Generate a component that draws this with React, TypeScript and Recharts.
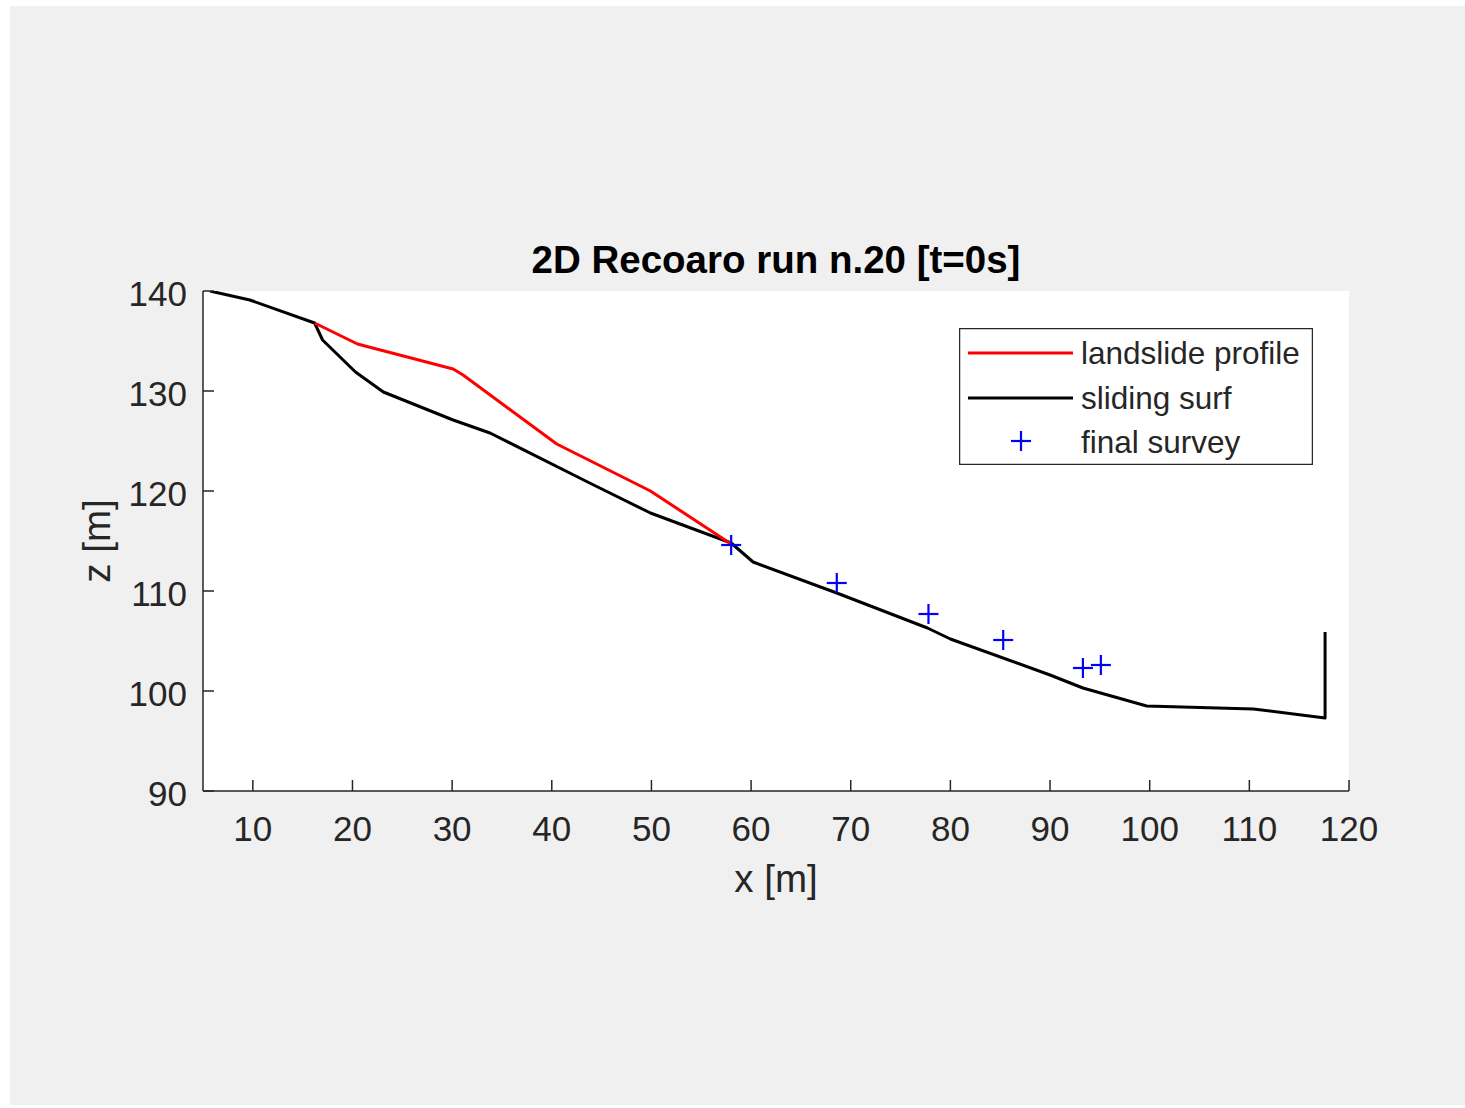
import { ComposedChart, Line, Scatter, XAxis, YAxis, CartesianGrid, Legend, Label } from 'recharts'

// sliding surface (black)
const surfX = [5.7, 9.7, 16.2, 17.0, 20.3, 23.1, 30.1, 33.8, 43.8, 49.9, 58.0, 60.2, 68.6, 77.7, 80.0, 90.0, 93.3, 99.7, 110.4, 117.6, 117.6]
const surfZ = [140, 139.1, 136.8, 135.1, 131.9, 129.9, 127.1, 125.8, 120.8, 117.8, 114.8, 112.9, 109.8, 106.3, 105.2, 101.6, 100.3, 98.5, 98.2, 97.3, 105.9]

// landslide profile (red)
const profX = [16.2, 20.5, 30.1, 31.1, 40.5, 49.9, 58.0]
const profZ = [136.8, 134.7, 132.2, 131.6, 124.7, 120.0, 114.7]

// final survey (blue +)
const surveyX = [58.0, 68.6, 77.8, 85.3, 93.3, 95.1]
const surveyZ = [114.6, 110.8, 107.7, 105.1, 102.3, 102.6]

const xTicks = [10, 20, 30, 40, 50, 60, 70, 80, 90, 100, 110, 120]
const zTicks = [90, 100, 110, 120, 130, 140]

const surf = surfX.map((x, i) => ({ x, z: surfZ[i] }))
const prof = profX.map((x, i) => ({ x, z: profZ[i] }))
const survey = surveyX.map((x, i) => ({ x, z: surveyZ[i] }))

const FONT = '"Liberation Sans", Arial, Helvetica, sans-serif'
const AXIS = '#262626'

const XTick = ({ x, y, payload }: any) => (
  <g>
    <line x1={x} y1={y} x2={x} y2={y - 11} stroke={AXIS} strokeWidth={1.5} />
    <text x={x} y={y + 50} textAnchor="middle" fontSize={35} fontFamily={FONT} fill={AXIS}>
      {payload.value}
    </text>
  </g>
)

const YTick = ({ x, y, payload }: any) => (
  <g>
    <line x1={x} y1={y} x2={x + 11} y2={y} stroke={AXIS} strokeWidth={1.5} />
    <text x={x - 16} y={y + 15} textAnchor="end" fontSize={35} fontFamily={FONT} fill={AXIS}>
      {payload.value}
    </text>
  </g>
)

const Plus = ({ cx, cy }: any) => (
  <g stroke="#0000ff" strokeWidth={2.2}>
    <line x1={cx - 10} y1={cy} x2={cx + 10} y2={cy} />
    <line x1={cx} y1={cy - 10} x2={cx} y2={cy + 10} />
  </g>
)

const LegendBox = () => (
  <svg width={354} height={137} style={{ display: 'block' }}>
    <rect x={0.5} y={0.5} width={353} height={136} fill="#fff" stroke={AXIS} strokeWidth={1.5} />
    <line x1={9} y1={25} x2={114} y2={25} stroke="#ff0000" strokeWidth={3} />
    <line x1={9} y1={70} x2={114} y2={70} stroke="#000" strokeWidth={3} />
    <Plus cx={62} cy={113} />
    <g fontSize={31.5} fontFamily={FONT} fill={AXIS}>
      <text x={122} y={36}>landslide profile</text>
      <text x={122} y={81}>sliding surf</text>
      <text x={122} y={125}>final survey</text>
    </g>
  </svg>
)

export default function App() {
  return (
    <div style={{ position: 'absolute', left: 10, top: 6, width: 1455, height: 1099, background: '#f0f0f0', fontFamily: FONT }}>
      <ComposedChart width={1455} height={1099} margin={{ top: 285, right: 116, bottom: 254, left: 113 }}>
        <CartesianGrid horizontal={false} vertical={false} fill="#ffffff" fillOpacity={1} />
        <XAxis
          type="number"
          dataKey="x"
          domain={[5, 120]}
          ticks={xTicks}
          allowDataOverflow
          height={60}
          tickSize={0}
          tickMargin={0}
          tickLine={false}
          tick={<XTick />}
          axisLine={{ stroke: AXIS, strokeWidth: 1.5 }}
        >
          <Label
            content={({ viewBox }: any) => (
              <text x={viewBox.x + viewBox.width / 2} y={886} textAnchor="middle" fontSize={38.5} fontFamily={FONT} fill={AXIS}>
                x [m]
              </text>
            )}
          />
          <Label
            content={({ viewBox }: any) => (
              <text x={viewBox.x + viewBox.width / 2} y={267} textAnchor="middle" fontSize={38.5} fontWeight="bold" fontFamily={FONT} fill="#000">
                2D Recoaro run n.20 [t=0s]
              </text>
            )}
          />
        </XAxis>
        <YAxis
          type="number"
          dataKey="z"
          domain={[90, 140]}
          ticks={zTicks}
          allowDataOverflow
          width={80}
          tickSize={0}
          tickMargin={0}
          tickLine={false}
          tick={<YTick />}
          axisLine={{ stroke: AXIS, strokeWidth: 1.5 }}
        >
          <Label
            content={({ viewBox }: any) => {
              const cy = viewBox.y + viewBox.height / 2
              return (
                <text x={100} y={cy} transform={`rotate(-90 100 ${cy})`} textAnchor="middle" fontSize={38.5} fontFamily={FONT} fill={AXIS}>
                  z [m]
                </text>
              )
            }}
          />
        </YAxis>
        <Legend
          layout="horizontal"
          verticalAlign="middle"
          align="center"
          content={<LegendBox />}
          wrapperStyle={{ position: 'absolute', left: 949, top: 322, width: 354, height: 137 }}
        />
        <Line data={surf} dataKey="z" type="linear" stroke="#000000" strokeWidth={3} strokeLinejoin="round" dot={false} isAnimationActive={false} name="sliding surf" />
        <Line data={prof} dataKey="z" type="linear" stroke="#ff0000" strokeWidth={3} strokeLinejoin="round" dot={false} isAnimationActive={false} name="landslide profile" />
        <Scatter data={survey} dataKey="z" shape={<Plus />} isAnimationActive={false} name="final survey" />
      </ComposedChart>
    </div>
  )
}
